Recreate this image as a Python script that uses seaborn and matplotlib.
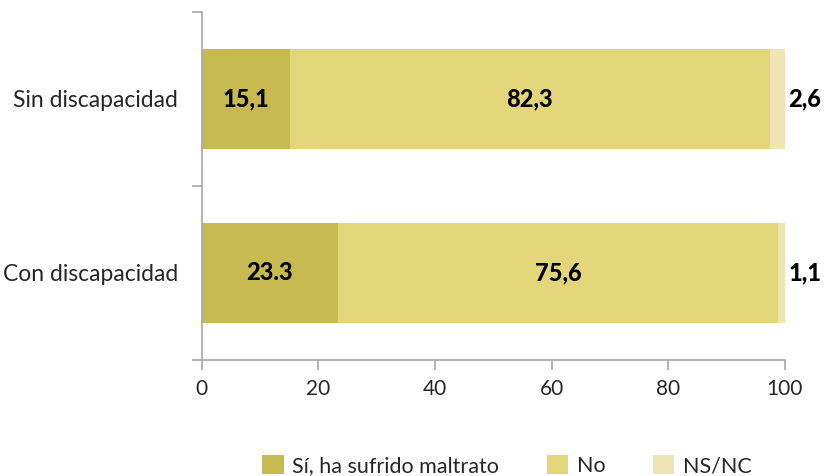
import numpy as np
import pandas as pd
import matplotlib
matplotlib.use("Agg")
import matplotlib.pyplot as plt
from matplotlib.patches import Patch
import seaborn as sns

# Datos
grupos = ["Sin discapacidad", "Con discapacidad"]
series = ["Sí, ha sufrido maltrato", "No", "NS/NC"]
si_maltrato = [15.1, 23.3]
no_maltrato = [82.3, 75.6]
ns_nc = [2.6, 1.1]
etiquetas = [["15,1", "23.3"], ["82,3", "75,6"], ["2,6", "1,1"]]
colores = ["#C6BA50", "#E3D67A", "#EEE5B6"]

sns.set_theme(style="white")
plt.rcParams["font.family"] = ["Lato", "DejaVu Sans"]

valores = np.array([si_maltrato, no_maltrato, ns_nc])
acumulado = valores.cumsum(axis=0)

fig = plt.figure(figsize=(8.27, 4.76), dpi=100)
ax = fig.add_axes([0.244, 0.244, 0.705, 0.731])

# Barras apiladas: se dibuja el acumulado de mayor a menor
for i in range(len(series) - 1, -1, -1):
    df = pd.DataFrame({"grupo": grupos, "valor": acumulado[i]})
    sns.barplot(data=df, x="valor", y="grupo", orient="h", color=colores[i],
                width=0.575, saturation=1, ax=ax, linewidth=0)

# Etiquetas
for j in range(len(grupos)):
    for i in range(2):
        centro = acumulado[i][j] - valores[i][j] / 2
        ax.text(centro, j, etiquetas[i][j], ha="center", va="center",
                fontsize=17, fontweight="black", color="black")
    ax.text(100.6, j, etiquetas[2][j], ha="left", va="center",
            fontsize=17, fontweight="black", color="black", clip_on=False)

ax.set_xlim(0, 100)
ax.set_ylim(1.5, -0.5)
ax.set_xticks([0, 20, 40, 60, 80, 100])
ax.set_yticks([-0.5, 0.5, 1.5])
ax.set_yticklabels([])
ax.set_yticks([0, 1], minor=True)
ax.set_yticklabels(grupos, minor=True)
ax.set_xlabel("")
ax.set_ylabel("")

gris = "#A6A6A6"
for lado in ["top", "right"]:
    ax.spines[lado].set_visible(False)
for lado in ["left", "bottom"]:
    ax.spines[lado].set_color(gris)
    ax.spines[lado].set_linewidth(1.2)
ax.tick_params(axis="x", which="major", direction="out", length=7, width=1.2,
               color=gris, labelsize=15, pad=7, bottom=True)
ax.tick_params(axis="y", which="major", direction="out", length=7, width=1.2,
               color=gris, left=True)
ax.tick_params(axis="y", which="minor", length=0, labelsize=16.5, pad=17, left=True)

handles = [Patch(facecolor=c, edgecolor="none") for c in colores]
fig.legend(handles, series, loc="center", bbox_to_anchor=(0.613, 0.022), ncol=3,
           frameon=False, fontsize=15.5, handlelength=1.0, handleheight=1.0,
           handletextpad=0.4, columnspacing=2.2)

fig.savefig("out.png", dpi=100)
